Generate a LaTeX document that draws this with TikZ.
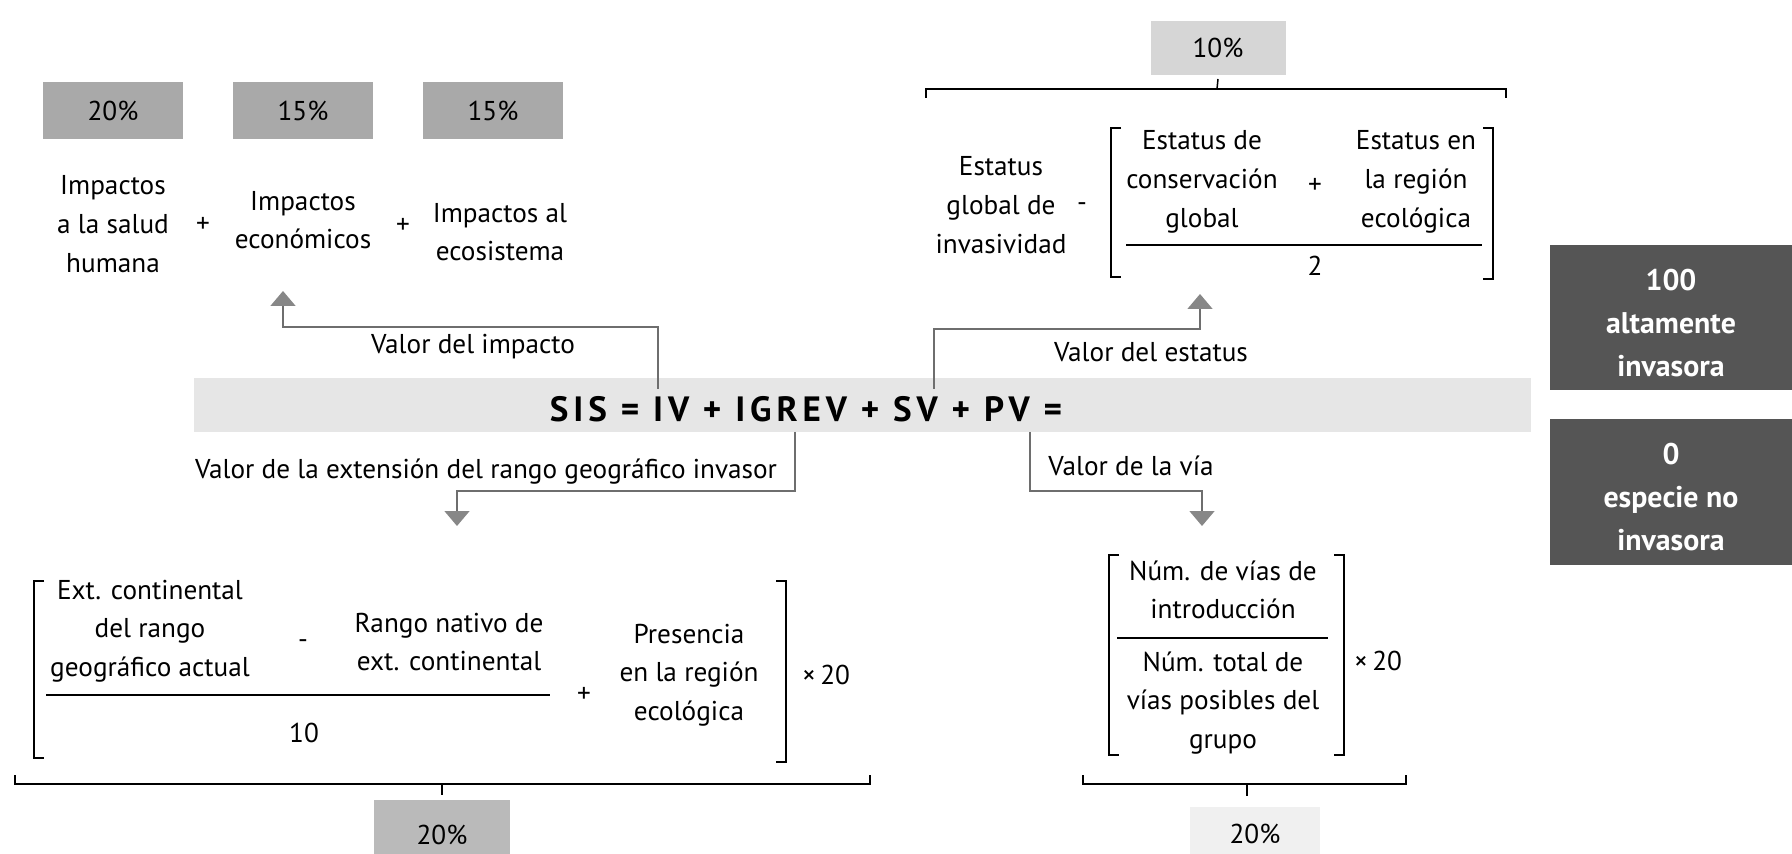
\documentclass[tikz,border=0pt]{standalone}
\usepackage{fontspec}
\setmainfont{PT Sans}
\usetikzlibrary{arrows.meta}
\definecolor{pctgray}{RGB}{169,169,169}
\definecolor{pctlight}{RGB}{214,214,214}
\definecolor{pctfaint}{RGB}{240,240,240}
\definecolor{bargray}{RGB}{230,230,230}
\definecolor{darkgray}{RGB}{85,85,85}
\definecolor{lngray}{RGB}{110,110,110}
\definecolor{tipgray}{RGB}{135,135,135}

\begin{document}
\begin{tikzpicture}[x=0.02cm, y=-0.02cm,
      t/.style={align=center, inner sep=0pt, font=\fontsize{15.5}{22}\selectfont},
      pct/.style={fill=pctgray, minimum width=2.8cm, minimum height=1.14cm,
                  inner sep=0pt, font=\fontsize{15.5}{22}\selectfont},
      dk/.style={text=white, align=center, inner sep=0pt,
                 font=\fontsize{17}{24.5}\selectfont\bfseries},
      conn/.style={draw=lngray, line width=0.9pt},
      arr/.style={conn, -{Triangle[width=0.5cm, length=0.3cm, color=tipgray]}},
      brk/.style={line width=1.1pt},
      brc/.style={line width=0.85pt}]
    \useasboundingbox (0,0) rectangle (1792,854);

    % central equation
    \node[fill=bargray, minimum width=26.74cm, minimum height=1.08cm, inner sep=0pt]
          (bar) at (862.5,405) {};
    \node[font=\fontsize{20}{22}\selectfont\bfseries\addfontfeatures{LetterSpace=14}]
          (eq) at (806,409) {SIS = IV + IGREV + SV + PV =};

    % impact value
    \node[pct] (p1) at (113,111) {20\%};
    \node[pct] (p2) at (303,111) {15\%};
    \node[pct] (p3) at (493,111) {15\%};
    \node[t] (sal) at (113,224) {Impactos\\a la salud\\humana};
    \node[t] (pl1) at (203,225) {+};
    \node[t] (eco) at (303,220) {Impactos\\económicos};
    \node[t] (pl2) at (403,226) {+};
    \node[t] (ecs) at (500,232) {Impactos al\\ecosistema};

    % status value
    \node[pct, fill=pctlight, minimum width=2.7cm, minimum height=1.08cm] (p4) at (1218,48) {10\%};
    \draw[brc] (926,98) -- (926,89) -- (1506,89) -- (1506,98);
    \draw[brc] (1217,89) -- (p4.south |- 0,79);
    \node[t] (glo) at (1001,205) {Estatus\\global de\\invasividad};
    \node[t] (mi1) at (1082,207) {-};
    \node[t] (con) at (1202,182) {Estatus de\\conservación\\global};
    \node[t] (pl3) at (1315,186) {+};
    \node[t] (reg) at (1416,182) {Estatus en\\la región\\ecológica};
    \node[t] (two) at (1315,266) {2};
    \draw[brk] (1121,128) -- (1111,128) -- (1111,277) -- (1121,277);
    \draw[brk] (1483,128) -- (1493,128) -- (1493,279) -- (1483,279);
    \draw[brk] (1126,245) -- (1482,245);

    % geographic range value
    \node[t] (ext) at (150,631) {Ext. continental\\del rango\\geográfico actual};
    \node[t] (mi2) at (303,644) {-};
    \node[t] (nat) at (449,642) {Rango nativo de\\ext. continental};
    \node[t] (ten) at (304,733) {10};
    \node[t] (pl4) at (584,695) {+};
    \node[t] (pre) at (689,675) {Presencia\\en la región\\ecológica};
    \node[t] (x1) at (826,675) {×\,20};
    \draw[brk] (44,581) -- (34,581) -- (34,758) -- (44,758);
    \draw[brk] (776,581) -- (786,581) -- (786,762) -- (776,762);
    \draw[brk] (46,695) -- (550,695);
    \draw[brc] (15,775) -- (15,784) -- (870,784) -- (870,775);
    \node[pct, fill=pctgray!80, minimum width=2.74cm, minimum height=1.2cm] (p5) at (442,830) {};
    \node[t] at (442,835) {20\%};
    \draw[brc] (442,784) -- (p5.north |- 0,795);

    % pathway value
    \node[t] (num) at (1223,590) {Núm. de vías de\\introducción};
    \node[t] (tot) at (1223,703) {Núm. total de\\vías posibles del\\grupo};
    \node[t] (x2) at (1378,661) {×\,20};
    \draw[brk] (1119,555) -- (1109,555) -- (1109,755) -- (1119,755);
    \draw[brk] (1334,555) -- (1344,555) -- (1344,755) -- (1334,755);
    \draw[brk] (1117,638) -- (1328,638);
    \draw[brc] (1083,775) -- (1083,784) -- (1406,784) -- (1406,775);
    \node[fill=pctfaint, minimum width=2.6cm, minimum height=1.1cm] (p6) at (1255,834) {};
    \node[t] at (1255,834) {20\%};
    \draw[brc] (1247,784) -- (1247,796);

    % connectors from the equation
    \coordinate (ivTop) at (658,389);
    \coordinate (ivKnee) at (658,327);
    \coordinate (impTip) at (283,291);
    \coordinate (svTop) at (934,389);
    \coordinate (svKnee) at (934,329);
    \coordinate (staTip) at (1200,294);
    \coordinate (igTop) at (795,432);
    \coordinate (igKnee) at (795,491);
    \coordinate (extTip) at (457,526);
    \coordinate (pvTop) at (1030,432);
    \coordinate (pvKnee) at (1030,491);
    \coordinate (viaTip) at (1202,526);
    \draw[arr] (ivTop) -- (ivKnee) -| (impTip);
    \draw[arr] (svTop) -- (svKnee) -| (staTip);
    \draw[arr] (igTop) -- (igKnee) -| (extTip);
    \draw[arr] (pvTop) -- (pvKnee) -| (viaTip);
    \node[t] (lv1) at (473,347) {Valor del impacto};
    \node[t] (lv2) at (1151,352) {Valor del estatus};
    \node[t] (lv3) at (486,472) {Valor de la extensión del rango geográfico invasor};
    \node[t] (lv4) at (1131,466) {Valor de la vía};

    % scale
    \fill[darkgray] (1550,245) rectangle (1800,390);
    \fill[darkgray] (1550,419) rectangle (1800,565);
    \node[dk] (hi) at (1671,323) {100\\altamente\\invasora};
    \node[dk] (lo) at (1671,497) {0\\especie no\\invasora};
  \end{tikzpicture}
\end{document}
